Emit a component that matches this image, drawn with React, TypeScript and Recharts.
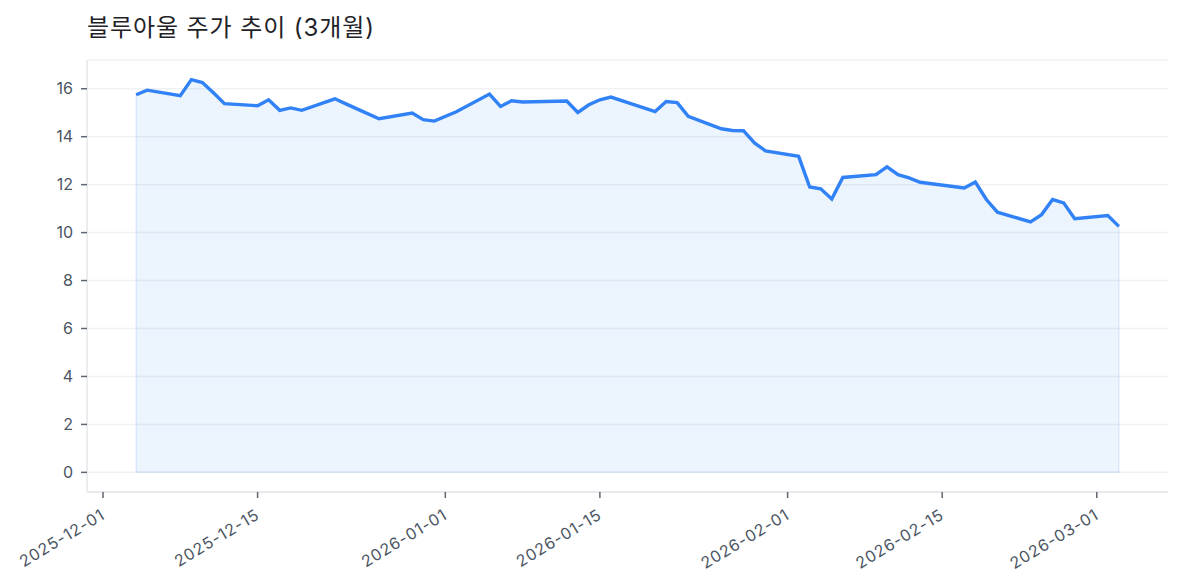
import React from 'react'
import { Area, CartesianGrid, ComposedChart, ReferenceLine, XAxis, YAxis } from 'recharts'

// daily closes (US trading days)
const dates = [
  '2025-12-04', '2025-12-05', '2025-12-08', '2025-12-09', '2025-12-10', '2025-12-11', '2025-12-12',
  '2025-12-15', '2025-12-16', '2025-12-17', '2025-12-18', '2025-12-19',
  '2025-12-22', '2025-12-23', '2025-12-24', '2025-12-26',
  '2025-12-29', '2025-12-30', '2025-12-31', '2026-01-02',
  '2026-01-05', '2026-01-06', '2026-01-07', '2026-01-08', '2026-01-09',
  '2026-01-12', '2026-01-13', '2026-01-14', '2026-01-15', '2026-01-16',
  '2026-01-20', '2026-01-21', '2026-01-22', '2026-01-23',
  '2026-01-26', '2026-01-27', '2026-01-28', '2026-01-29', '2026-01-30',
  '2026-02-02', '2026-02-03', '2026-02-04', '2026-02-05', '2026-02-06',
  '2026-02-09', '2026-02-10', '2026-02-11', '2026-02-12', '2026-02-13',
  '2026-02-17', '2026-02-18', '2026-02-19', '2026-02-20',
  '2026-02-23', '2026-02-24', '2026-02-25', '2026-02-26', '2026-02-27',
  '2026-03-02', '2026-03-03',
]
const prices = [
  15.75, 15.94, 15.71, 16.38, 16.26, 15.83, 15.38,
  15.29, 15.54, 15.10, 15.20, 15.10,
  15.58, 15.37, 15.16, 14.75,
  14.99, 14.71, 14.65, 15.04,
  15.78, 15.26, 15.50, 15.45, 15.46,
  15.49, 15.01, 15.33, 15.54, 15.65,
  15.05, 15.47, 15.42, 14.85,
  14.33, 14.26, 14.25, 13.74, 13.41,
  13.18, 11.90, 11.83, 11.40, 12.30,
  12.42, 12.74, 12.42, 12.28, 12.10,
  11.86, 12.11, 11.38, 10.85,
  10.45, 10.75, 11.38, 11.24, 10.58,
  10.71, 10.26,
]
const xTickDates = ['2025-12-01', '2025-12-15', '2026-01-01', '2026-01-15', '2026-02-01', '2026-02-15', '2026-03-01']
const yTicks = [0, 2, 4, 6, 8, 10, 12, 14, 16]

const toTime = (d: string) => Date.parse(d + 'T00:00:00Z')
const fmtDate = (t: number) => new Date(t).toISOString().slice(0, 10)

const data = dates.map((d, i) => ({ t: toTime(d), price: prices[i] }))
const first = data[0]
const last = data[data.length - 1]
const xPad = (last.t - first.t) * 0.05
const yTop = Math.max(...prices)
const yLow = Math.min(0, ...prices)
const yPad = (yTop - yLow) * 0.05

const BLUE = '#3182f6'
const TEXT = '#4b5563'
const FONT = 'Inter, "Noto Sans CJK KR", sans-serif'

const DateTick = ({ x, y, payload }: any) => (
  <g transform={`translate(${x + 3},${y + 18})`}>
    <text textAnchor="end" transform="rotate(-31)" fill={TEXT} fontSize={16} letterSpacing={0.9} fontFamily={FONT}>
      {fmtDate(payload.value)}
    </text>
  </g>
)

export default function App() {
  return (
    <div style={{ position: 'absolute', left: 0, top: 0, width: 1182, height: 585, background: '#fff' }}>
      <svg width={1182} height={60} style={{ position: 'absolute', left: 0, top: 0 }}>
        <text x={87} y={36} fontSize={24} letterSpacing={0.9} fontFamily={FONT} fill="#1f2328">
          블루아울 주가 추이 (3개월)
        </text>
      </svg>
      <ComposedChart width={1182} height={585} data={data} margin={{ top: 60, right: 14, bottom: 0, left: 0 }}>
        <CartesianGrid vertical={false} stroke="#eff1f4" strokeWidth={1.5} />
        <XAxis
          dataKey="t"
          type="number"
          domain={[first.t - xPad, last.t + xPad]}
          allowDataOverflow
          ticks={xTickDates.map(toTime)}
          interval={0}
          height={93}
          tick={<DateTick />}
          tickSize={6}
          tickLine={{ stroke: '#5f6672', strokeWidth: 1.5 }}
          axisLine={{ stroke: '#e5e7eb', strokeWidth: 1.5 }}
        />
        <YAxis
          type="number"
          domain={[yLow - yPad, yTop + yPad]}
          allowDataOverflow
          ticks={yTicks}
          interval={0}
          width={87}
          tickSize={6}
          tickMargin={8}
          tick={{ fill: TEXT, fontSize: 16, fontFamily: FONT }}
          tickLine={{ stroke: '#5f6672', strokeWidth: 1.5 }}
          axisLine={{ stroke: '#e5e7eb', strokeWidth: 1.5 }}
        />
        <ReferenceLine segment={[{ x: first.t, y: 0 }, { x: last.t, y: 0 }]} stroke={BLUE} strokeOpacity={0.12} strokeWidth={1.5} />
        <ReferenceLine segment={[{ x: first.t, y: 0 }, { x: first.t, y: first.price }]} stroke={BLUE} strokeOpacity={0.12} strokeWidth={1.5} />
        <ReferenceLine segment={[{ x: last.t, y: 0 }, { x: last.t, y: last.price }]} stroke={BLUE} strokeOpacity={0.12} strokeWidth={1.5} />
        <Area
          type="linear"
          dataKey="price"
          baseValue={0}
          stroke={BLUE}
          strokeWidth={3.4}
          fill={BLUE}
          fillOpacity={0.09}
          dot={false}
          activeDot={false}
          isAnimationActive={false}
        />
      </ComposedChart>
    </div>
  )
}
